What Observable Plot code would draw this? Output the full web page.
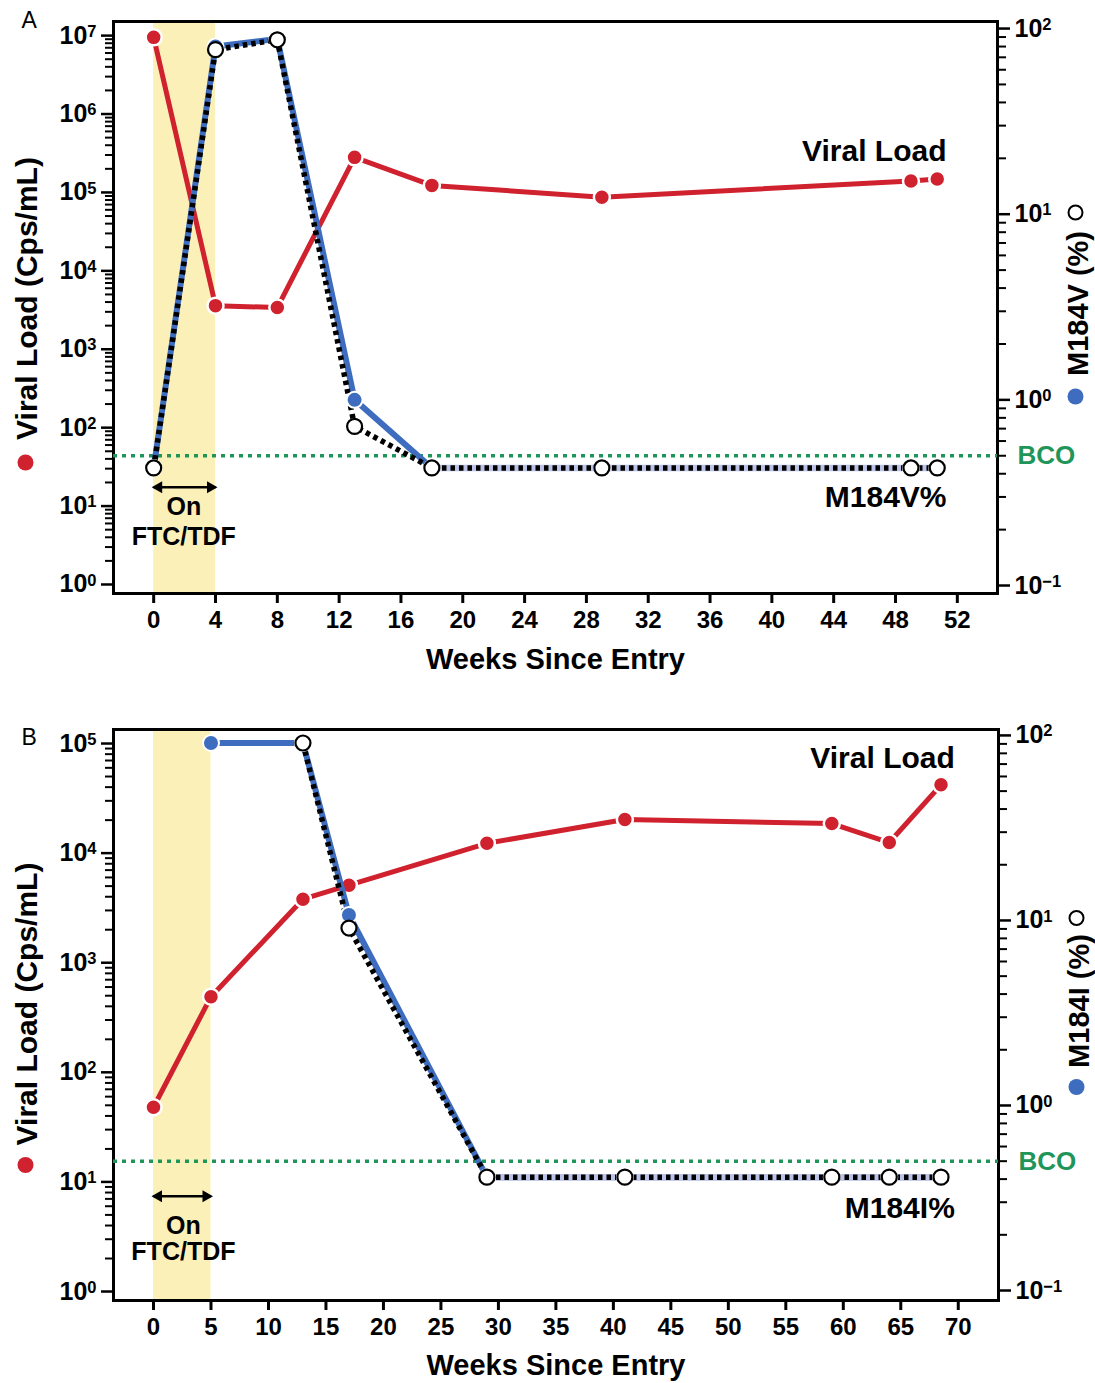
<!DOCTYPE html>
<html>
<head>
<meta charset="utf-8">
<script src="https://cdn.jsdelivr.net/npm/d3@7"></script>
<script src="https://cdn.jsdelivr.net/npm/@observablehq/plot@0.6"></script>
<style>
  body { margin: 0; background: white; }
  .panel { position: relative; width: 1095px; }
  .panel svg { position: absolute; left: 0; top: 0; }
</style>
</head>
<body>
<div id="panelA" class="panel" style="height:690px"></div>
<div id="panelB" class="panel" style="height:693px"></div>
<script>
// ---------------- Data ----------------
// Panel A
const weeksA = [0, 4, 8, 13, 18, 29, 49, 50.7];
const viralLoadA = [9.5e6, 3600, 3400, 2.8e5, 1.23e5, 8.7e4, 1.4e5, 1.48e5];
const m184vFilledA = [0.43, 80, 88, 1.0, 0.43, 0.43, 0.43, 0.43];
const m184vOpenA = [0.43, 77, 87, 0.72, 0.43, 0.43, 0.43, 0.43];
const xTicksA = [0, 4, 8, 12, 16, 20, 24, 28, 32, 36, 40, 44, 48, 52];
const bandA = [0, 4];
const undetectableFromA = 18; // week from which the mutant stays below cutoff

// Panel B
const weeksB_VL = [0, 5, 13, 17, 29, 41, 59, 64, 68.5];
const viralLoadB = [48, 490, 3800, 5100, 1.23e4, 2.03e4, 1.86e4, 1.25e4, 4.2e4];
const weeksB_filled = [5, 13, 17, 29, 41, 59, 64, 68.5];
const m184iFilledB = [91, 91, 10.7, 0.41, 0.41, 0.41, 0.41, 0.41];
const weeksB_open = [13, 17, 29, 41, 59, 64, 68.5];
const m184iOpenB = [91, 9.1, 0.41, 0.41, 0.41, 0.41, 0.41];
const xTicksB = [0, 5, 10, 15, 20, 25, 30, 35, 40, 45, 50, 55, 60, 65, 70];
const bandB = [0, 5];
const undetectableFromB = 29;

const bco = 0.5; // % below cutoff

// ---------------- Styles ----------------
const FONT = "'Liberation Sans', Arial, Helvetica, sans-serif";
const RED = "#d0212e", BLUE = "#3e6dbf", LAV = "#bcc3e8", GREEN = "#1f955a", YELLOW = "#fcf0b9";

const pow10Label = d => "10^" + String(Math.round(Math.log10(d))).replace("-", "\u2212");
const majors = (lo, hi) => d3.range(lo, hi + 1).map(e => Math.pow(10, e));
const minors = (lo, hi) => { const out = []; for (let e = lo; e < hi; e++) for (let k = 2; k <= 9; k++) out.push(k * Math.pow(10, e)); return out; };

const zip = (xs, ys) => xs.map((w, i) => ({w, v: ys[i]}));

// turn "10^7" tick labels into real superscripts
function superscripts(svg) {
  const ns = "http://www.w3.org/2000/svg";
  svg.querySelectorAll("text").forEach(t => {
    const s = t.textContent;
    if (!/^10\^/.test(s)) return;
    const [base, exp] = s.split("^");
    t.textContent = "";
    const a = document.createElementNS(ns, "tspan");
    a.textContent = base;
    const b = document.createElementNS(ns, "tspan");
    b.textContent = exp;
    b.setAttribute("dy", "-0.42em");
    b.setAttribute("font-size", "0.66em");
    t.appendChild(a); t.appendChild(b);
  });
  return svg;
}

function leftPlot(cfg) {
  return superscripts(Plot.plot({
    width: 1095, height: cfg.height,
    marginTop: cfg.mt, marginBottom: cfg.mb, marginLeft: 113, marginRight: cfg.mr,
    x: {domain: cfg.xdom},
    y: {type: "log", domain: cfg.ydom},
    style: {fontFamily: FONT, fontWeight: "bold", background: "white", overflow: "visible"},
    marks: [
      Plot.rect([cfg.band], {x1: d => d[0], x2: d => d[1], fill: YELLOW}),
      Plot.frame({stroke: "black", strokeWidth: 3}),
      Plot.axisX({ticks: cfg.xticks, tickSize: 10, tickPadding: 7, fontSize: 24, strokeWidth: 3, label: null, tickFormat: d => String(d)}),
      Plot.axisY({ticks: minors(0, cfg.ymaxE), tickSize: 8, strokeWidth: 2, tickFormat: () => "", label: null}),
      Plot.axisY({ticks: majors(0, cfg.ymaxE), tickSize: 12, tickPadding: 5, strokeWidth: 2.5, fontSize: 25, tickFormat: pow10Label, label: null}),
      // treatment arrow + text
      Plot.link([cfg.band], {x1: d => d[0], x2: d => d[1], y1: cfg.arrowY, y2: cfg.arrowY, stroke: "black", strokeWidth: 2.5}),
      Plot.dot([cfg.band], {x: d => d[1], y: cfg.arrowY, symbol: "triangle", r: 4.5, rotate: 90, dx: -5, fill: "black"}),
      Plot.dot([cfg.band], {x: d => d[0], y: cfg.arrowY, symbol: "triangle", r: 4.5, rotate: -90, dx: 5, fill: "black"}),
      Plot.text(["On"], {x: cfg.onX, y: cfg.onY, text: d => d, fontSize: 25}),
      Plot.text(["FTC/TDF"], {x: cfg.onX, y: cfg.ftcY, text: d => d, fontSize: 25}),
      // viral load series
      Plot.line(cfg.vl, {x: "w", y: "v", stroke: RED, strokeWidth: 5}),
      Plot.dot(cfg.vl, {x: "w", y: "v", r: 8, fill: RED, stroke: "white", strokeWidth: 2.5}),
      Plot.text(["Viral Load"], {x: cfg.vlLabX, y: cfg.vlLabY, text: d => d, textAnchor: "end", fontSize: 30}),
      // left axis title with marker
      Plot.text(["Viral Load (Cps/mL)"], {frameAnchor: "left", dx: -86, dy: cfg.ltitleDy, rotate: -90, text: d => d, fontSize: 30, textAnchor: "middle", lineAnchor: "middle"}),
      Plot.dot([0], {frameAnchor: "left", dx: -88, dy: cfg.ldotDy, r: 8, fill: RED}),
      // x axis title
      Plot.text(["Weeks Since Entry"], {frameAnchor: "bottom", dy: cfg.xtitleDy, text: d => d, fontSize: 29, textAnchor: "middle", lineAnchor: "middle"}),
      // panel letter
      Plot.text([cfg.letter], {frameAnchor: "top-left", dx: -92, dy: cfg.letterDy, text: d => d, fontSize: 23, fontWeight: "normal", textAnchor: "start", lineAnchor: "middle"})
    ]
  }));
}

function rightPlot(cfg) {
  return superscripts(Plot.plot({
    width: 1095, height: cfg.height,
    marginTop: cfg.mt, marginBottom: cfg.mb, marginLeft: 113, marginRight: cfg.mr,
    x: {domain: cfg.xdom, axis: null},
    y: {type: "log", domain: cfg.ydom},
    style: {fontFamily: FONT, fontWeight: "bold", background: "transparent", overflow: "visible"},
    marks: [
      Plot.axisY({anchor: "right", ticks: minors(-1, 2), tickSize: 8, strokeWidth: 2, tickFormat: () => "", label: null}),
      Plot.axisY({anchor: "right", ticks: majors(-1, 2), tickSize: 12, tickPadding: 5, strokeWidth: 2.5, fontSize: 25, tickFormat: pow10Label, label: null}),
      Plot.ruleY([bco], {stroke: GREEN, strokeWidth: 3.5, strokeDasharray: "4,5"}),
      Plot.text(["BCO"], {frameAnchor: "right", y: bco, dx: 20, text: d => d, textAnchor: "start", fill: GREEN, fontSize: 26}),
      Plot.line(cfg.filled, {x: "w", y: "v", stroke: BLUE, strokeWidth: 6}),
      Plot.line(cfg.filled.filter(d => d.w >= cfg.undetFrom), {x: "w", y: "v", stroke: LAV, strokeWidth: 6.5}),
      Plot.line(cfg.open, {x: "w", y: "v", stroke: "black", strokeWidth: 5.5, strokeDasharray: "4.5,4", strokeLinecap: "butt", strokeLinejoin: "miter"}),
      Plot.dot(cfg.filled, {x: "w", y: "v", r: 8, fill: BLUE, stroke: "white", strokeWidth: 2}),
      Plot.dot(cfg.open, {x: "w", y: "v", r: 7.5, fill: "white", stroke: "black", strokeWidth: 2.2}),
      Plot.text([cfg.mutLabel], {x: cfg.mutLabX, y: cfg.mutLabY, text: d => d, textAnchor: "end", fontSize: 30}),
      // right axis title with markers
      Plot.text([cfg.rtitle], {frameAnchor: "right", dx: 81, dy: cfg.rtitleDy, rotate: -90, text: d => d, fontSize: 29, textAnchor: "middle", lineAnchor: "middle"}),
      Plot.dot([0], {frameAnchor: "right", dx: 78, dy: cfg.rdotDy, r: 8, fill: BLUE}),
      Plot.dot([0], {frameAnchor: "right", dx: 78, dy: cfg.rcircDy, r: 7, fill: "white", stroke: "black", strokeWidth: 2})
    ]
  }));
}

// Panel A
const cfgA = {
  height: 690, mt: 21, mb: 97, mr: 98,
  xdom: [-2.6, 54.6], xticks: xTicksA, band: bandA,
  ydom: [Math.pow(10, -0.115), Math.pow(10, 7.18)], ymaxE: 7,
  vl: zip(weeksA, viralLoadA),
  arrowY: 17.4, onX: 1.95, onY: 9.6, ftcY: 4.0,
  vlLabX: 51.3, vlLabY: 3.3e5,
  ltitleDy: -9, ldotDy: 155, xtitleDy: 66, letter: "A", letterDy: -1
};
const cfgAr = {
  height: 690, mt: 21, mb: 97, mr: 98,
  xdom: cfgA.xdom, ydom: [Math.pow(10, -1.043), Math.pow(10, 2.038)],
  filled: zip(weeksA, m184vFilledA), open: zip(weeksA, m184vOpenA), undetFrom: undetectableFromA,
  mutLabel: "M184V%", mutLabX: 51.3, mutLabY: 0.30,
  rtitle: "M184V (%)", rtitleDy: -4, rdotDy: 89, rcircDy: -95
};

// Panel B
const cfgB = {
  height: 693, mt: 39, mb: 83, mr: 97,
  xdom: [-3.48, 73.5], xticks: xTicksB, band: bandB,
  ydom: [Math.pow(10, -0.082), Math.pow(10, 5.128)], ymaxE: 5,
  vl: zip(weeksB_VL, viralLoadB),
  arrowY: 7.4, onX: 2.6, onY: 4.0, ftcY: 2.27,
  vlLabX: 69.7, vlLabY: 7.3e4,
  ltitleDy: -11, ldotDy: 150, xtitleDy: 65, letter: "B", letterDy: 8
};
const cfgBr = {
  height: 693, mt: 39, mb: 83, mr: 97,
  xdom: cfgB.xdom, ydom: [Math.pow(10, -1.054), Math.pow(10, 2.032)],
  filled: zip(weeksB_filled, m184iFilledB), open: zip(weeksB_open, m184iOpenB), undetFrom: undetectableFromB,
  mutLabel: "M184I%", mutLabX: 69.7, mutLabY: 0.277,
  rtitle: "M184I (%)", rtitleDy: -14, rdotDy: 72, rcircDy: -97
};

const pa = document.getElementById("panelA");
pa.appendChild(leftPlot(cfgA));
pa.appendChild(rightPlot(cfgAr));
const pb = document.getElementById("panelB");
pb.appendChild(leftPlot(cfgB));
pb.appendChild(rightPlot(cfgBr));
</script>
</body>
</html>
